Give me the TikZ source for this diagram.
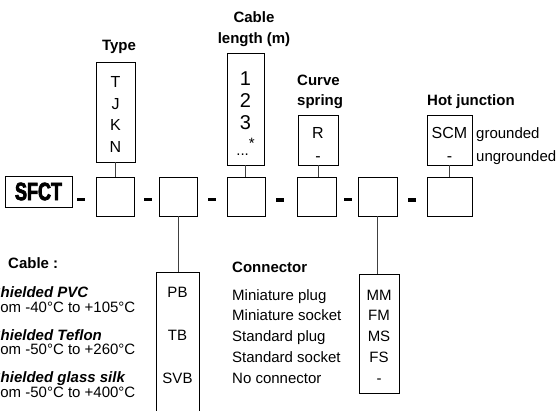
\documentclass[tikz,border=0pt]{standalone}
\usepackage{fontspec}
\setmainfont{Liberation Sans}
\newfontfamily\sfctfont[FakeStretch=0.72,FakeBold=3]{Liberation Sans Bold}
\begin{document}
\begin{tikzpicture}[x=1pt,y=-1pt,
  box/.style={draw, line width=0.9pt, inner sep=0pt, outer sep=0pt},
  conn/.style={draw=black!75, line width=0.8pt},
  dashbar/.style={fill=black, draw=none, inner sep=0pt, outer sep=0pt, minimum width=8pt, minimum height=3.5pt},
  lbl/.style={font=\bfseries\fontsize{15}{18}\selectfont, inner sep=0pt},
  txt/.style={font=\fontsize{15}{18}\selectfont, inner sep=0pt},
  big/.style={font=\fontsize{16}{18}\selectfont, inner sep=0pt},
  huge/.style={font=\fontsize{20}{22}\selectfont, inner sep=0pt},
  bit/.style={font=\bfseries\itshape\fontsize{15}{18}\selectfont, inner sep=0pt}]
\useasboundingbox (0,0) rectangle (557,410);
\clip (0,0) rectangle (557,410);
% main row
\node[box, minimum width=67pt, minimum height=31pt, font=\sfctfont\fontsize{25}{26}\selectfont] (sfct) at (38.5,191.5) {SFCT};
\node[box, minimum width=38pt, minimum height=39pt] (b1) at (115,196.5) {};
\node[box, minimum width=38pt, minimum height=39pt] (b2) at (178,196.5) {};
\node[box, minimum width=38pt, minimum height=39pt] (b3) at (246,196.5) {};
\node[box, minimum width=39pt, minimum height=39pt] (b4) at (316.5,196.5) {};
\node[box, minimum width=39pt, minimum height=39pt] (b5) at (377.5,196.5) {};
\node[box, minimum width=45pt, minimum height=39pt] (b6) at (449.5,196.5) {};
\node[dashbar] (d1) at (80.5,199.5) {};
\node[dashbar] (d2) at (148,199.5) {};
\node[dashbar] (d3) at (211.5,199.5) {};
\node[dashbar] (d4) at (280,200) {};
\node[dashbar] (d5) at (347.5,199.5) {};
\node[dashbar] (d6) at (412,200) {};
% Type
\node[lbl, anchor=base] (typel) at (119,50.4) {Type};
\node[box, minimum width=39pt, minimum height=100pt] (typebox) at (115.5,112) {};
\node[big, anchor=base] (tT) at (115.5,87.7) {T};
\node[big, anchor=base] (tJ) at (115.5,109.2) {J};
\node[big, anchor=base] (tK) at (115.5,130.7) {K};
\node[big, anchor=base] (tN) at (115.5,152.2) {N};
% Cable length
\node[lbl, anchor=base] (cl1) at (254,22.4) {Cable};
\node[lbl, anchor=base] (cl2) at (254,43.4) {length (m)};
\node[box, minimum width=37pt, minimum height=112pt] (lenbox) at (245.5,109) {};
\node[huge, anchor=base] (n1) at (245.5,85.2) {1};
\node[huge, anchor=base] (n2) at (245.5,107.2) {2};
\node[huge, anchor=base] (n3) at (245.5,129.2) {3};
\node[txt, anchor=base] (ndots) at (245.5,155.5) {...\raisebox{7pt}{*}};
% Curve spring
\node[lbl, anchor=base west] (cs1) at (297,85.4) {Curve};
\node[lbl, anchor=base west] (cs2) at (297,105.4) {spring};
\node[box, minimum width=40pt, minimum height=50pt] (rbox) at (318,140) {};
\node[big, anchor=base] (rR) at (318,138.7) {R};
\node[big, anchor=base] (rD) at (318,161) {-};
% Hot junction
\node[lbl, anchor=base west] (hj) at (427,105.4) {Hot junction};
\node[box, minimum width=45pt, minimum height=50pt] (scmbox) at (449.5,140) {};
\node[big, anchor=base] (sS) at (449.5,138.7) {SCM};
\node[big, anchor=base] (sD) at (449.5,161) {-};
\node[txt, anchor=base west] (gr) at (476,138.4) {grounded};
\node[txt, anchor=base west] (ugr) at (476,161.4) {ungrounded};
% Cable list
\node[lbl, anchor=base west] (cab) at (8,268.4) {Cable :};
\node[bit, anchor=base west] (c1) at (-9.5,297.4) {Shielded PVC};
\node[txt, anchor=base west] (c2) at (-9,312.4) {from -40°C to +105°C};
\node[bit, anchor=base west] (c3) at (-9.5,340.4) {Shielded Teflon};
\node[txt, anchor=base west] (c4) at (-9,354.4) {from -50°C to +260°C};
\node[bit, anchor=base west] (c5) at (-9.5,382.4) {Shielded glass silk};
\node[txt, anchor=base west] (c6) at (-9,397.4) {from -50°C to +400°C};
\node[box, minimum width=43pt, minimum height=150pt] (pbbox) at (177.5,347) {};
\node[txt, anchor=base] (pPB) at (177.5,297.4) {PB};
\node[txt, anchor=base] (pTB) at (177.5,340.4) {TB};
\node[txt, anchor=base] (pSVB) at (177.5,383.4) {SVB};
% Connector list
\node[lbl, anchor=base west] (con) at (232,272.4) {Connector};
\node[txt, anchor=base west] (k1) at (232,300.4) {Miniature plug};
\node[txt, anchor=base west] (k2) at (232,320.4) {Miniature socket};
\node[txt, anchor=base west] (k3) at (232,341.4) {Standard plug};
\node[txt, anchor=base west] (k4) at (232,362.4) {Standard socket};
\node[txt, anchor=base west] (k5) at (232,383.4) {No connector};
\node[box, minimum width=40pt, minimum height=119pt] (mmbox) at (379,333.5) {};
\node[txt, anchor=base] (mMM) at (379,300.4) {MM};
\node[txt, anchor=base] (mFM) at (379,320.4) {FM};
\node[txt, anchor=base] (mMS) at (379,341.4) {MS};
\node[txt, anchor=base] (mFS) at (379,362.4) {FS};
\node[txt, anchor=base] (mD) at (379,383.4) {-};
% connectors
\draw[conn] (typebox.south) -- (typebox.south |- b1.north);
\draw[conn] (lenbox.south) -- (lenbox.south |- b3.north);
\draw[conn] (rbox.south) -- (rbox.south |- b4.north);
\draw[conn] (scmbox.south) -- (scmbox.south |- b6.north);
\draw[conn] (b2.south) -- (b2.south |- pbbox.north);
\draw[conn] (b5.south) -- (b5.south |- mmbox.north);
\end{tikzpicture}
\end{document}
